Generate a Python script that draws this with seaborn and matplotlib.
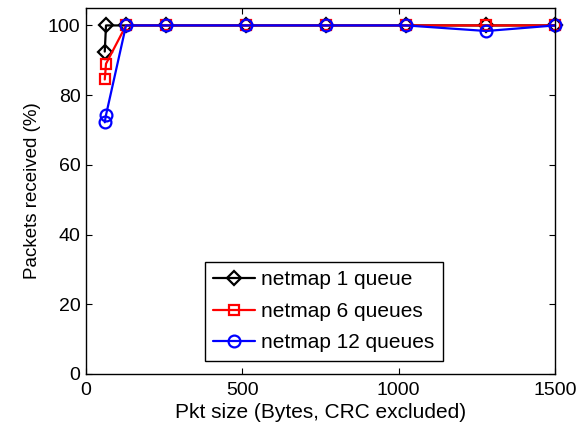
import matplotlib
matplotlib.use("Agg")
import matplotlib.pyplot as plt
import seaborn as sns
import pandas as pd

# Packet size (bytes, CRC excluded) and share of packets received (%)
pkt_size = [60, 64, 128, 256, 512, 768, 1024, 1280, 1500]
recv_1q = [92.5, 100, 100, 100, 100, 100, 100, 100, 100]
recv_6q = [84.5, 89.0, 100, 100, 100, 100, 100, 100, 100]
recv_12q = [72.2, 74.3, 100, 100, 100, 100, 100, 98.4, 100]

series_names = ["netmap 1 queue", "netmap 6 queues", "netmap 12 queues"]
series_vals = [recv_1q, recv_6q, recv_12q]
colors = ["black", "red", "blue"]
markers = ["D", "s", "o"]
msizes = [7, 6.5, 8.5]

x_ticks = [0, 500, 1000, 1500]
y_ticks = [0, 20, 40, 60, 80, 100]

sns.set_style("ticks")
plt.rcParams["font.family"] = ["Liberation Sans", "DejaVu Sans"]
plt.rcParams["text.color"] = "black"
plt.rcParams["axes.labelcolor"] = "black"

fig = plt.figure(figsize=(5.8, 4.29), dpi=100)
ax = fig.add_axes([86 / 580, 1 - 374 / 429, 469 / 580, 366 / 429])

for name, vals, c, m, ms in zip(series_names, series_vals, colors, markers, msizes):
    df = pd.DataFrame({"size": pkt_size, "recv": vals})
    sns.lineplot(data=df, x="size", y="recv", ax=ax, color=c, marker=m,
                 markersize=ms, markerfacecolor="none", markeredgecolor=c,
                 markeredgewidth=1.6, linewidth=1.6, label=name, clip_on=False)

ax.set_xlim(0, 1500)
ax.set_ylim(0, 105)
ax.set_xticks(x_ticks)
ax.set_yticks(y_ticks)
ax.tick_params(direction="in", top=True, right=True, labelsize=14,
               length=4, width=0.8, colors="black", labelcolor="black")
ax.tick_params(axis="x", pad=6)
ax.tick_params(axis="y", pad=4)
for s in ax.spines.values():
    s.set_visible(True)
    s.set_color("black")
    s.set_linewidth(1.0)

ax.set_xlabel("Pkt size (Bytes, CRC excluded)", fontsize=15, labelpad=3)
ax.set_ylabel("Packets received (%)", fontsize=13.5, labelpad=5)

leg = ax.legend(loc="lower center", bbox_to_anchor=(0.507, 0.036), fontsize=15,
                frameon=True, fancybox=False, framealpha=1, edgecolor="black",
                handlelength=2.0, handletextpad=0.3, labelspacing=0.6,
                borderpad=0.4, borderaxespad=0)
leg.get_frame().set_linewidth(1.0)

fig.savefig("out.png", dpi=100)
